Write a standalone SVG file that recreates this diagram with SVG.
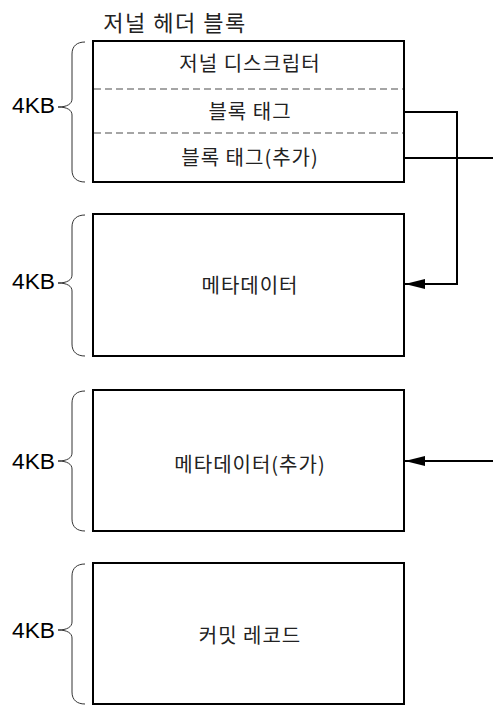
<svg xmlns="http://www.w3.org/2000/svg" width="493" height="707" viewBox="0 0 493 707">
<style>
.box{fill:#fff;stroke:#000;stroke-width:2}
.dash{stroke:#888;stroke-width:1.3;stroke-dasharray:7,4;fill:none}
.brace{fill:none;stroke:#333;stroke-width:1}
.kt{font-family:"Noto Sans CJK KR",sans-serif;font-size:20px;letter-spacing:1px;fill:#222;text-anchor:middle}
.kb{font-family:"Liberation Sans",Arial,sans-serif;font-size:22px;fill:#000}
.conn{fill:none;stroke:#000;stroke-width:2}
</style>
<defs>
<marker id="arr" viewBox="0 0 20 10" refX="20" refY="5" markerWidth="20" markerHeight="10" markerUnits="userSpaceOnUse" orient="auto">
<path d="M0,0 L20,5 L0,10 Z" fill="#000"/>
</marker>
</defs>
<text x="175" y="31" class="kt" style="font-size:22px;letter-spacing:1.5px">저널 헤더 블록</text>
<g id="header-block">
<rect class="box" x="93" y="41" width="311" height="141"/>
<line class="dash" x1="94" y1="89" x2="403" y2="89"/>
<line class="dash" x1="94" y1="133" x2="403" y2="133"/>
<text x="250" y="71" class="kt">저널 디스크립터</text>
<text x="250" y="119" class="kt">블록 태그</text>
<text x="250" y="165" class="kt">블록 태그(추가)</text>
<path class="brace" d="M85,42 C77,42 72,46 72,54 L72,99 C72,104 67,107 58,107 C67,107 72,110 72,115 L72,170 C72,178 77,182 85,182"/>
<text x="12" y="113" class="kb" textLength="43" lengthAdjust="spacingAndGlyphs">4KB</text>
</g>
<g id="metadata">
<rect class="box" x="93" y="214" width="311" height="142"/>
<text x="250" y="293" class="kt">메타데이터</text>
<path class="brace" d="M85,215 C77,215 72,219 72,227 L72,275 C72,280 67,283 58,283 C67,283 72,286 72,291 L72,344 C72,352 77,356 85,356"/>
<text x="12" y="289" class="kb" textLength="43" lengthAdjust="spacingAndGlyphs">4KB</text>
</g>
<g id="metadata-extra">
<rect class="box" x="93" y="390" width="311" height="141"/>
<text x="250" y="472" class="kt">메타데이터(추가)</text>
<path class="brace" d="M85,391 C77,391 72,395 72,403 L72,453 C72,458 67,461 58,461 C67,461 72,464 72,469 L72,519 C72,527 77,531 85,531"/>
<text x="12" y="469" class="kb" textLength="43" lengthAdjust="spacingAndGlyphs">4KB</text>
</g>
<g id="commit-record">
<rect class="box" x="93" y="563" width="311" height="141"/>
<text x="250" y="643" class="kt">커밋 레코드</text>
<path class="brace" d="M85,564 C77,564 72,568 72,576 L72,622 C72,627 67,630 58,630 C67,630 72,633 72,638 L72,692 C72,700 77,704 85,704"/>
<text x="12" y="638" class="kb" textLength="43" lengthAdjust="spacingAndGlyphs">4KB</text>
</g>
<g id="connectors">
<path class="conn" d="M404,112 L457,112 L457,284 L405,284" marker-end="url(#arr)"/>
<path class="conn" d="M404,158 L493,158"/>
<path class="conn" d="M493,461 L405,461" marker-end="url(#arr)"/>
</g>
</svg>
